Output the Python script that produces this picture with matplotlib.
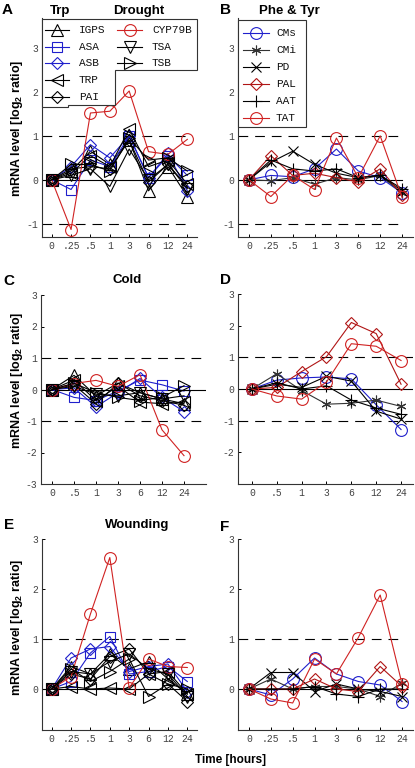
import matplotlib
matplotlib.use('Agg')
import matplotlib.pyplot as plt
from matplotlib.lines import Line2D
from matplotlib.patches import Polygon

plt.rcParams['font.family'] = ['Liberation Sans', 'DejaVu Sans']
plt.rcParams['mathtext.fontset'] = 'custom'
plt.rcParams['mathtext.rm'] = 'Liberation Sans:bold'
plt.rcParams['lines.scale_dashes'] = False

# time points (hours) as shown on the x axis
times_8 = ['0', '.25', '.5', '1', '3', '6', '12', '24']
times_7 = ['0', '.5', '1', '3', '6', '12', '24']

trp_genes = ['IGPS', 'ASA', 'ASB', 'TRP', 'PAI', 'CYP79B', 'TSA', 'TSB']
phe_genes = ['CMs', 'CMi', 'PD', 'PAL', 'AAT', 'TAT']

# log2 ratios
drought_trp = {
    'IGPS':   [0, 0.20, 0.65, 0.35, 0.90, -0.25, 0.30, -0.38],
    'ASA':    [0, -0.22, 0.45, 0.30, 1.00, 0.05, 0.55, 0.10],
    'ASB':    [0, 0.30, 0.80, 0.50, 1.00, 0.05, 0.60, -0.25],
    'TRP':    [0, 0.15, 0.55, 0.30, 1.15, 0.30, 0.45, -0.10],
    'PAI':    [0, 0.25, 0.30, 0.25, 0.90, -0.05, 0.35, -0.15],
    'CYP79B': [0, -1.13, 1.52, 1.56, 2.02, 0.64, 0.58, 0.92],
    'TSA':    [0, 0.10, 0.25, -0.15, 0.70, 0.00, 0.35, -0.20],
    'TSB':    [0, 0.35, 0.35, 0.20, 0.95, 0.45, 0.50, 0.20],
}
drought_phe = {
    'CMs': [0, 0.10, 0.07, 0.25, 0.70, 0.20, 0.05, -0.30],
    'CMi': [0, -0.02, 0.05, -0.10, 0.05, 0.00, 0.10, -0.30],
    'PD':  [0, 0.40, 0.65, 0.35, 0.15, 0.05, 0.10, -0.25],
    'PAL': [0, 0.55, 0.10, 0.15, 0.05, -0.05, 0.25, -0.35],
    'AAT': [0, 0.45, 0.25, 0.20, 0.25, 0.05, 0.10, -0.20],
    'TAT': [0, -0.38, 0.10, -0.22, 0.95, 0.05, 1.00, -0.40],
}
cold_trp = {
    'IGPS':   [0, 0.45, -0.20, 0.20, -0.10, -0.30, -0.45],
    'ASA':    [0, -0.25, -0.35, -0.05, 0.30, 0.15, -0.05],
    'ASB':    [0, 0.05, -0.55, -0.10, 0.35, -0.25, -0.70],
    'TRP':    [0, 0.30, -0.35, 0.10, -0.40, -0.45, -0.40],
    'PAI':    [0, 0.15, -0.45, 0.20, -0.20, -0.35, -0.50],
    'CYP79B': [0, 0.19, 0.29, 0.10, 0.47, -1.28, -2.10],
    'TSA':    [0, 0.10, -0.15, -0.20, -0.10, -0.30, -0.20],
    'TSB':    [0, 0.20, -0.10, -0.25, -0.35, -0.25, 0.12],
}
cold_phe = {
    'CMs': [0, 0.28, 0.35, 0.38, 0.32, -0.50, -1.28],
    'CMi': [0, 0.48, -0.05, -0.48, -0.45, -0.35, -0.55],
    'PD':  [0, 0.15, 0.05, 0.40, 0.25, -0.70, -0.95],
    'PAL': [0, 0.05, 0.55, 1.02, 2.10, 1.75, 0.15],
    'AAT': [0, 0.20, 0.00, 0.10, -0.35, -0.60, -0.80],
    'TAT': [0, -0.22, -0.32, 0.22, 1.43, 1.35, 0.90],
}
wound_trp = {
    'IGPS':   [0, 0.45, 0.30, 0.70, 0.40, 0.55, 0.20, -0.10],
    'ASA':    [0, 0.15, 0.72, 1.05, 0.30, 0.35, 0.45, 0.15],
    'ASB':    [0, 0.62, 0.80, 0.85, 0.35, 0.45, 0.50, -0.05],
    'TRP':    [0, 0.05, 0.00, 0.02, 0.00, 0.30, 0.35, -0.10],
    'PAI':    [0, 0.30, 0.20, 0.65, 0.80, 0.30, 0.10, -0.25],
    'CYP79B': [0, 0.25, 1.50, 2.63, 0.02, 0.60, 0.45, 0.43],
    'TSA':    [0, 0.35, 0.30, 0.55, 0.70, 0.40, 0.30, -0.15],
    'TSB':    [0, 0.40, 0.15, 0.35, 0.60, -0.15, 0.10, 0.00],
}
wound_phe = {
    'CMs': [0, -0.12, 0.20, 0.62, 0.30, 0.15, 0.08, -0.25],
    'CMi': [0, 0.20, 0.00, 0.05, 0.05, 0.00, -0.15, 0.12],
    'PD':  [0, 0.33, 0.33, -0.05, 0.10, 0.00, -0.05, -0.15],
    'PAL': [0, 0.00, 0.00, 0.20, 0.00, -0.05, 0.45, 0.05],
    'AAT': [0, 0.00, 0.00, 0.05, -0.10, -0.15, 0.00, 0.00],
    'TAT': [0, -0.20, -0.28, 0.60, 0.30, 1.03, 1.88, 0.10],
}

BLUE = '#1f1fcc'
RED = '#d02222'
DARKRED = '#b01515'
ASTER = (6, 2, 0)

styles = {
    'IGPS': ('k', '^', 8), 'ASA': (BLUE, 's', 7), 'ASB': (BLUE, 'D', 6.5),
    'TRP': ('k', '<', 8), 'PAI': ('k', 'D', 6.5), 'CYP79B': (RED, 'o', 8.5),
    'TSA': ('k', 'v', 8), 'TSB': ('k', '>', 8),
    'CMs': (BLUE, 'o', 8.5), 'CMi': ('#333333', ASTER, 7), 'PD': ('k', 'x', 6.5),
    'PAL': (DARKRED, 'D', 6.5), 'AAT': ('k', '+', 8), 'TAT': (RED, 'o', 8.5),
}

W, H = 415, 768
fig = plt.figure(figsize=(W / 100, H / 100), dpi=100)


def px_axes(l, t, r, b):
    return fig.add_axes([l / W, 1 - b / H, (r - l) / W, (b - t) / H])


def panel(ax, times, data, genes, xlim, ylim, yticks, line_end):
    x = list(range(1, len(times) + 1))
    ax.plot([xlim[0], line_end], [0, 0], color='k', lw=0.8, zorder=1)
    for yv in (1, -1):
        ax.plot([xlim[0], line_end], [yv, yv], color='k', lw=0.8,
                dashes=(7, 5), zorder=1)
    for g in genes:
        c, m, ms = styles[g]
        ax.plot(x, data[g], color=c, marker=m, mfc='none', mec=c, ms=ms,
                lw=0.8, mew=0.8, zorder=2)
    ax.set_xlim(*xlim)
    ax.set_ylim(*ylim)
    ax.set_xticks(x)
    ax.set_xticklabels(times, fontfamily='Liberation Mono', fontsize=7,
                       color='#444444')
    ax.set_yticks(yticks)
    ax.set_yticklabels([str(v) for v in yticks], fontfamily='Liberation Mono',
                       fontsize=7, color='#444444')
    ax.tick_params(direction='in', length=2.5, width=0.7, pad=3)
    for s in ('top', 'right'):
        ax.spines[s].set_visible(False)
    for s in ('left', 'bottom'):
        ax.spines[s].set_color('#333333')
        ax.spines[s].set_linewidth(0.8)
    ax.patch.set_alpha(0)


axA = px_axes(42, 18, 197, 237)
panel(axA, times_8, drought_trp, trp_genes, (0.5, 8.5), (-1.3, 3.68),
      [-1, 0, 1, 2, 3], 8)
axB = px_axes(238, 18, 413, 237)
panel(axB, times_8, drought_phe, phe_genes, (0.5, 8.5), (-1.3, 3.68),
      [-1, 0, 1, 2, 3], 8)
axC = px_axes(41, 295, 206, 484)
panel(axC, times_7, cold_trp, trp_genes, (0.5, 8.0), (-3, 3),
      [-3, -2, -1, 0, 1, 2, 3], 8.0)
axD = px_axes(238, 294, 413, 484)
panel(axD, times_7, cold_phe, phe_genes, (0.44, 7.48), (-3, 3),
      [-2, -1, 0, 1, 2, 3], 7.48)
axE = px_axes(42, 539, 197, 730)
panel(axE, times_8, wound_trp, trp_genes, (0.5, 8.5), (-0.82, 3),
      [0, 1, 2, 3], 8)
axF = px_axes(238, 539, 413, 730)
panel(axF, times_8, wound_phe, phe_genes, (0.5, 8.5), (-0.82, 3),
      [0, 1, 2, 3], 8)


def ftext(x, y, s, **kw):
    fig.text(x / W, 1 - y / H, s, **kw)


def leg_entry(x0, x1, xt, y, gene):
    c, m, ms = styles[gene]
    yy = 1 - y / H
    fig.add_artist(Line2D([x0 / W, x1 / W], [yy, yy], color=c, lw=0.8, zorder=3))
    fig.add_artist(Line2D([(x0 + x1) / 2 / W], [yy], marker=m, mfc='none',
                          mec=c, ms=ms, mew=0.8, zorder=3))
    ftext(xt, y, gene, family='Liberation Mono', size=8, va='center',
          color='#111111', zorder=3)


# legend A (stepped box)
boxA = [(42, 19), (197, 19), (197, 70), (115, 70), (115, 105), (68, 105),
        (68, 107), (42, 107)]
fig.add_artist(Polygon([(x / W, 1 - y / H) for x, y in boxA], closed=True,
                       facecolor='white', edgecolor='#333333', lw=0.8,
                       transform=fig.transFigure, zorder=2))
for gene, y in zip(['IGPS', 'ASA', 'ASB', 'TRP', 'PAI'], [30, 47, 63, 80, 97]):
    leg_entry(45, 69, 79, y, gene)
for gene, y in zip(['CYP79B', 'TSA', 'TSB'], [30, 47, 63]):
    leg_entry(117, 142, 152, y, gene)

# legend B
boxB = [(238, 20), (306, 20), (306, 127), (238, 127)]
fig.add_artist(Polygon([(x / W, 1 - y / H) for x, y in boxB], closed=True,
                       facecolor='white', edgecolor='#333333', lw=0.8,
                       transform=fig.transFigure, zorder=2))
for gene, y in zip(phe_genes, [33, 50, 67, 84, 101, 118]):
    leg_entry(243, 269, 276, y, gene)

bold = dict(weight='bold', ha='center', va='center')
ftext(7, 10, 'A', size=11, **bold)
ftext(60, 11, 'Trp', size=9.5, **bold)
ftext(139, 11, 'Drought', size=9.5, **bold)
ftext(225, 10, 'B', size=11, **bold)
ftext(289, 11, 'Phe & Tyr', size=9.5, **bold)
ftext(9, 281, 'C', size=11, **bold)
ftext(127, 280, 'Cold', size=9.5, **bold)
ftext(225, 280, 'D', size=11, **bold)
ftext(9, 525, 'E', size=11, **bold)
ftext(137, 525, 'Wounding', size=9.5, **bold)
ftext(225, 527, 'F', size=11, **bold)
for yc in (128, 380, 627):
    ftext(17, yc, r'mRNA level [log$_2$ ratio]', size=9, rotation=90, **bold)
ftext(230, 760, 'Time [hours]', size=8.5, **bold)

fig.savefig('out.png', dpi=100)
